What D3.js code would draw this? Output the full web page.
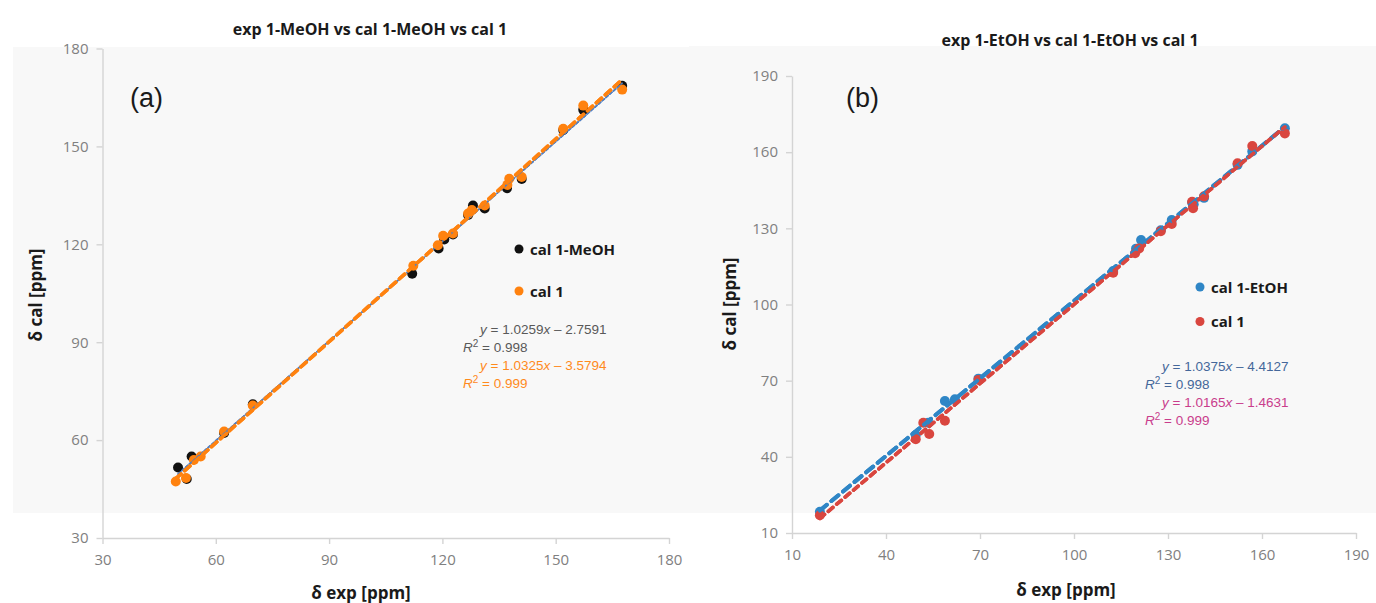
<!DOCTYPE html>
<html>
<head>
<meta charset="utf-8">
<script src="https://cdn.jsdelivr.net/npm/d3@7"></script>
<style>
  body { margin: 0; background: #fff; }
  svg { display: block; font-family: "Open Sans", Lato, sans-serif; }
</style>
</head>
<body>
<div id="chart"></div>
<script>
// ---- data: panel (a), methanol ----
const meohExp   = [50.0, 52.3, 53.6, 62.2, 69.8, 112.0, 119.0, 120.5, 122.8, 126.8, 128.1, 131.2, 137.1, 141.0, 152.0, 157.3, 167.6];
const meohCal   = [51.6, 48.1, 55.0, 62.2, 71.0, 111.0, 118.7, 121.5, 123.0, 129.0, 131.9, 131.0, 137.2, 140.0, 155.0, 161.2, 168.6];
const cal1aExp  = [49.4, 52.1, 54.2, 56.0, 62.2, 69.8, 112.3, 118.8, 120.2, 122.8, 126.8, 127.8, 131.2, 137.2, 137.7, 141.0, 152.0, 157.3, 167.6];
const cal1aCal  = [47.3, 48.4, 53.9, 55.0, 62.6, 70.6, 113.4, 119.7, 122.6, 123.3, 129.4, 130.5, 131.9, 138.2, 140.1, 140.6, 155.4, 162.5, 167.4];

// ---- data: panel (b), ethanol ----
const etohExp   = [18.9, 49.5, 53.5, 58.8, 62.0, 69.5, 112.5, 119.8, 121.4, 127.7, 131.2, 137.7, 138.2, 141.5, 152.2, 156.9, 167.3];
const etohCal   = [18.4, 48.6, 53.4, 62.0, 62.7, 70.8, 113.2, 122.0, 125.4, 129.2, 133.3, 140.2, 139.5, 142.0, 155.0, 160.3, 169.4];
const cal1bExp  = [18.9, 49.5, 51.9, 53.8, 58.8, 69.5, 112.5, 119.5, 120.8, 127.7, 131.2, 138.0, 137.7, 141.5, 152.2, 156.9, 167.3];
const cal1bCal  = [17.0, 46.9, 53.4, 49.0, 54.2, 70.3, 112.5, 120.2, 122.1, 128.9, 131.7, 137.9, 140.5, 142.6, 155.6, 162.4, 167.4];

// ---- tick values and labels ----
const ticksA = [30, 60, 90, 120, 150, 180];
const ticksB = [10, 40, 70, 100, 130, 160, 190];
const eqA = [['1.0259', '2.7591', '0.998'], ['1.0325', '3.5794', '0.999']];
const eqB = [['1.0375', '4.4127', '0.998'], ['1.0165', '1.4631', '0.999']];

const svg = d3.select('#chart').append('svg')
    .attr('width', 1376)
    .attr('height', 603);

// least squares fit for trendlines
function fit(xs, ys) {
    const mx = d3.mean(xs), my = d3.mean(ys);
    const sxy = d3.sum(xs, (x, i) => (x - mx) * (ys[i] - my));
    const sxx = d3.sum(xs, x => (x - mx) * (x - mx));
    const m = sxy / sxx;
    return { m, b: my - m * mx };
}

function drawPanel(p) {
    const g = svg.append('g');

    // plot area background
    g.append('rect')
        .attr('x', p.bg[0]).attr('y', p.bg[1])
        .attr('width', p.bg[2]).attr('height', p.bg[3])
        .attr('fill', '#f8f8f8');

    const x = d3.scaleLinear().domain(p.domain).range(p.xr);
    const y = d3.scaleLinear().domain(p.domain).range(p.yr);

    // axes
    const xa = g.append('g')
        .attr('transform', `translate(0,${p.yr[0]})`)
        .call(d3.axisBottom(x).tickValues(p.ticks).tickSize(6).tickSizeOuter(0).tickPadding(10));
    const ya = g.append('g')
        .attr('transform', `translate(${p.xr[0]},0)`)
        .call(d3.axisLeft(y).tickValues(p.ticks).tickSize(6).tickSizeOuter(0).tickPadding(8));
    [xa, ya].forEach(a => {
        a.select('.domain').attr('stroke', '#d4d4d4').attr('stroke-width', 1.4);
        a.selectAll('.tick line').attr('stroke', '#d4d4d4').attr('stroke-width', 1.4);
        a.selectAll('.tick text').attr('fill', '#808080').style('font-size', '15px')
            .style('font-family', '"Open Sans", sans-serif');
    });

    // trendline as a line from the least squares fit
    const trend = s => {
        const f = fit(s.xs, s.ys);
        const [x0, x1] = d3.extent(s.xs);
        g.append('line')
            .attr('x1', x(x0)).attr('y1', y(f.m * x0 + f.b))
            .attr('x2', x(x1)).attr('y2', y(f.m * x1 + f.b))
            .attr('stroke', s.lineColor)
            .attr('stroke-width', s.lineWidth)
            .attr('stroke-dasharray', s.dash)
            .attr('stroke-linecap', 'round');
    };

    p.series.forEach(trend);

    // points
    p.series.forEach(s => {
        g.append('g').selectAll('circle')
            .data(s.xs.map((v, i) => [v, s.ys[i]]))
            .join('circle')
            .attr('cx', d => x(d[0]))
            .attr('cy', d => y(d[1]))
            .attr('r', 5)
            .attr('fill', s.color);
    });
    // dashes sit over the dots like in Excel
    p.series.forEach(trend);

    // titles
    g.append('text')
        .attr('x', p.title[1]).attr('y', p.title[2])
        .attr('text-anchor', 'middle')
        .style('font-size', '16px').style('font-weight', 'bold').attr('fill', '#1a1a1a')
        .text(p.title[0]);
    g.append('text')
        .attr('x', p.tag[1]).attr('y', p.tag[2])
        .style('font-size', '27px').style('font-family', '"Liberation Sans", Arial, sans-serif')
        .attr('fill', '#1a1a1a')
        .text(p.tag[0]);
    g.append('text')
        .attr('x', p.xTitle[0]).attr('y', p.xTitle[1])
        .attr('text-anchor', 'middle')
        .style('font-size', '17px').style('font-weight', 'bold').attr('fill', '#1a1a1a')
        .text('δ exp [ppm]');
    g.append('text')
        .attr('transform', `translate(${p.yTitle[0]},${p.yTitle[1]}) rotate(-90)`)
        .attr('text-anchor', 'middle')
        .style('font-size', '17px').style('font-weight', 'bold').attr('fill', '#1a1a1a')
        .text('δ cal [ppm]');

    // legend
    p.series.forEach((s, i) => {
        const ly = p.legend[1] + i * p.legend[2];
        g.append('circle')
            .attr('cx', p.legend[0]).attr('cy', ly).attr('r', 4.5)
            .attr('fill', s.color);
        g.append('text')
            .attr('x', p.legend[0] + 11).attr('y', ly + 5.5)
            .style('font-size', '15px').style('font-weight', 'bold').attr('fill', '#1a1a1a')
            .text(s.name);
    });

    // trendline equations
    p.eq.forEach((e, i) => {
        const ey = p.eqPos[1] + i * 35.5;
        const c = p.series[i].eqColor;
        const t1 = g.append('text')
            .attr('x', p.eqPos[0]).attr('y', ey)
            .style('font-family', '"Liberation Sans", Arial, sans-serif')
            .style('font-size', '13.5px').attr('fill', c);
        t1.append('tspan').style('font-style', 'italic').text('y');
        t1.append('tspan').text(` = ${e[0]}`);
        t1.append('tspan').style('font-style', 'italic').text('x');
        t1.append('tspan').text(` – ${e[1]}`);
        const t2 = g.append('text')
            .attr('x', p.eqPos[0] - 17).attr('y', ey + 18)
            .style('font-family', '"Liberation Sans", Arial, sans-serif')
            .style('font-size', '13.5px').attr('fill', c);
        t2.append('tspan').style('font-style', 'italic').text('R');
        t2.append('tspan').attr('dy', -5).style('font-size', '10px').text('2');
        t2.append('tspan').attr('dy', 5).text(` = ${e[2]}`);
    });
}

drawPanel({
    bg: [13, 47, 676, 466],
    domain: [30, 180],
    xr: [102.5, 669],
    yr: [538, 48.5],
    ticks: ticksA,
    title: ['exp 1-MeOH vs cal 1-MeOH vs cal 1', 370, 35],
    tag: ['(a)', 130, 107],
    xTitle: [361, 599],
    yTitle: [42, 295],
    legend: [519, 249, 42],
    eqPos: [480, 334],
    eq: eqA,
    series: [
        { name: 'cal 1-MeOH', xs: meohExp, ys: meohCal, color: '#111111',
          lineColor: '#4f7fc4', lineWidth: 1.6, dash: '3,2', eqColor: '#595959' },
        { name: 'cal 1', xs: cal1aExp, ys: cal1aCal, color: '#ff820f',
          lineColor: '#ff820f', lineWidth: 3.6, dash: '7,5', eqColor: '#ff8a1c' }
    ]
});

drawPanel({
    bg: [689, 46, 687, 467],
    domain: [10, 190],
    xr: [792, 1356],
    yr: [533, 76],
    ticks: ticksB,
    title: ['exp 1-EtOH vs cal 1-EtOH vs cal 1', 1070, 46],
    tag: ['(b)', 846, 107],
    xTitle: [1066, 596],
    yTitle: [736, 304],
    legend: [1200, 287, 34.5],
    eqPos: [1162, 371],
    eq: eqB,
    series: [
        { name: 'cal 1-EtOH', xs: etohExp, ys: etohCal, color: '#2f86c6',
          lineColor: '#2f86c6', lineWidth: 4, dash: '9,6', eqColor: '#44679a' },
        { name: 'cal 1', xs: cal1bExp, ys: cal1bCal, color: '#d9463f',
          lineColor: '#d9463f', lineWidth: 3.6, dash: '6,5', eqColor: '#c93d8c' }
    ]
});
</script>
</body>
</html>
